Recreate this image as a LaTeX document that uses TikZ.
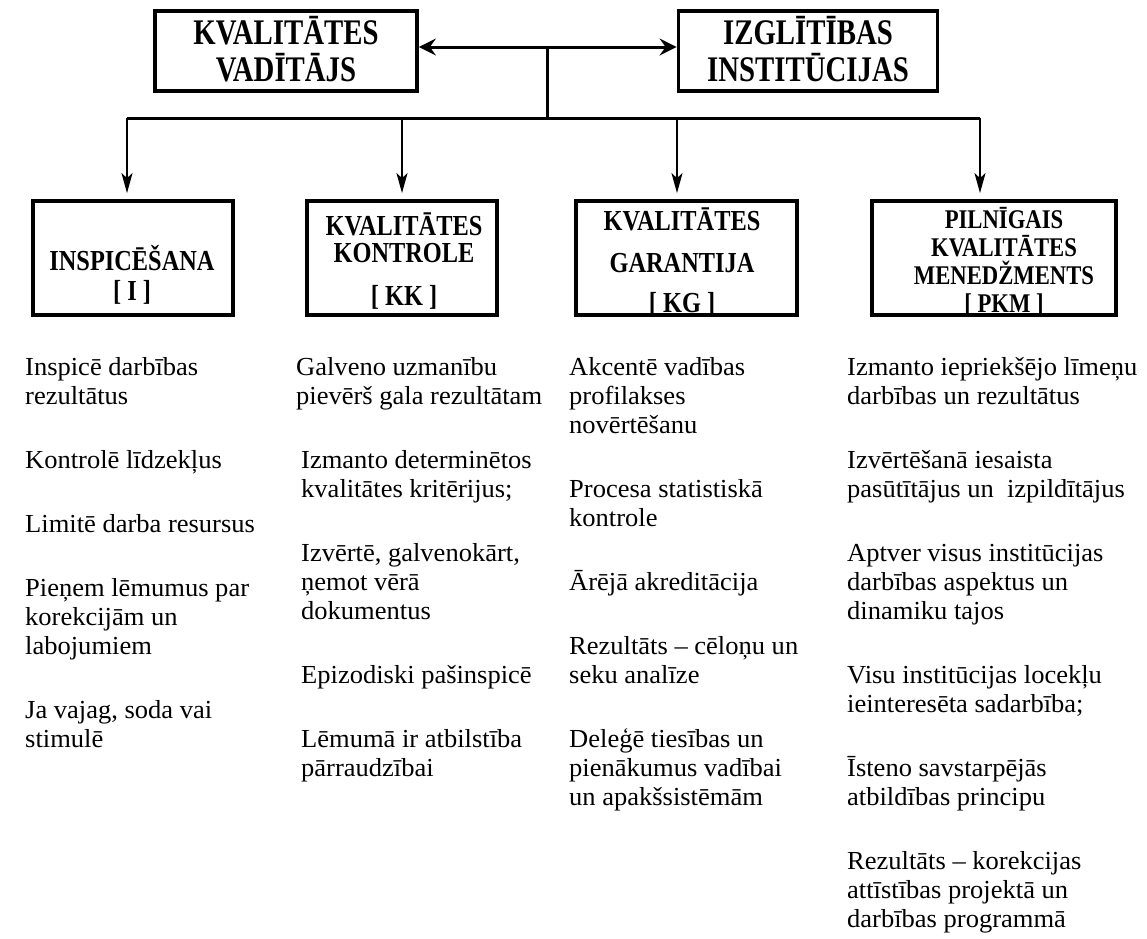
\documentclass[tikz,border=0pt]{standalone}
\usepackage{fontspec}
\setmainfont{Liberation Serif}
\newfontfamily\hdrfont[FakeStretch=0.8]{Liberation Serif}
\newfontfamily\boxfont[FakeStretch=0.84]{Liberation Serif}
\newfontfamily\bodyfont[FakeStretch=1.02]{Liberation Serif}
\usetikzlibrary{arrows.meta}
\tikzset{
  box/.style={draw, line width=3.8pt, inner sep=0pt},
  toptxt/.style={font=\hdrfont\bfseries\fontsize{36}{40}\selectfont, inner sep=0pt, anchor=base},
  boxtxt/.style={font=\boxfont\bfseries\fontsize{29}{32}\selectfont, inner sep=0pt, anchor=base},
  boxtxtsm/.style={font=\boxfont\bfseries\fontsize{27}{30}\selectfont, inner sep=0pt, anchor=base},
  body/.style={font=\bodyfont\fontsize{26}{29}\selectfont, inner sep=0pt, anchor=base west},
  conn/.style={line width=3pt},
  dbl/.style={line width=3pt, {Stealth[length=17pt,width=17pt,inset=6pt]}-{Stealth[length=17pt,width=17pt,inset=6pt]}},
  down/.style={line width=2pt, -{Stealth[length=20pt,width=11pt,inset=5pt]}, shorten >=6pt},
}
\newcommand\bline[4]{\node[body] (#1) at (#2,#3) {#4};}
\begin{document}
\begin{tikzpicture}[x=1pt,y=-1pt]
\useasboundingbox[fill=white] (0,0) rectangle (1147,938);

% top boxes
\node[box, minimum width=262pt, minimum height=80pt] (tl) at (286,51) {};
\node[box, minimum width=259pt, minimum height=80pt] (tr) at (808,51) {};
\node[toptxt] (tl1) at (286,44) {KVALITĀTES};
\node[toptxt] (tl2) at (286,81) {VADĪTĀJS};
\node[toptxt] (tr1) at (808,44) {IZGLĪTĪBAS};
\node[toptxt] (tr2) at (808,81) {INSTITŪCIJAS};

% connectors
\coordinate (j) at (547,47);
\coordinate (h) at (547,118);
\coordinate (a1) at (127,118);
\coordinate (a2) at (402,118);
\coordinate (a3) at (677,118);
\coordinate (a4) at (980,118);
\draw[dbl] (tl.east |- j) -- (tr.west |- j);
\draw[conn] (j) -- (h);
\draw[conn] (a1) -- (a4);

% lower boxes
\node[box, minimum width=200pt, minimum height=114pt] (b1) at (133,258) {};
\node[box, minimum width=190pt, minimum height=114pt] (b2) at (402,258) {};
\node[box, minimum width=221pt, minimum height=114pt] (b3) at (686.5,258) {};
\node[box, minimum width=244pt, minimum height=114pt] (b4) at (994,258) {};

\draw[down] (a1) -- (a1 |- b1.north);
\draw[down] (a2) -- (a2 |- b2.north);
\draw[down] (a3) -- (a3 |- b3.north);
\draw[down] (a4) -- (a4 |- b4.north);

\node[boxtxt] (b1t1) at (132,270) {INSPICĒŠANA};
\node[boxtxt] (b1t2) at (132,300) {[ I ]};
\node[boxtxt] (b2t1) at (404,235) {KVALITĀTES};
\node[boxtxt] (b2t2) at (404,262) {KONTROLE};
\node[boxtxt] (b2t3) at (404,305) {[ KK ]};
\node[boxtxt] (b3t1) at (682,230) {KVALITĀTES};
\node[boxtxt] (b3t2) at (682,272) {GARANTIJA};
\node[boxtxt] (b3t3) at (682,312) {[ KG ]};
\node[boxtxtsm] (b4t1) at (1004,228) {PILNĪGAIS};
\node[boxtxtsm] (b4t2) at (1004,256) {KVALITĀTES};
\node[boxtxtsm] (b4t3) at (1004,284) {MENEDŽMENTS};
\node[boxtxtsm] (b4t4) at (1004,312) {[ PKM ]};

% column 1
\bline{c1a}{25}{375}{Inspicē darbības}
\bline{c1b}{25}{404}{rezultātus}
\bline{c1c}{25}{468}{Kontrolē līdzekļus}
\bline{c1d}{25}{532}{Limitē darba resursus}
\bline{c1e}{25}{596}{Pieņem lēmumus par}
\bline{c1f}{25}{625}{korekcijām un}
\bline{c1g}{25}{654}{labojumiem}
\bline{c1h}{25}{718}{Ja vajag, soda vai}
\bline{c1i}{25}{747}{stimulē}

% column 2
\bline{c2a}{296}{375}{Galveno uzmanību}
\bline{c2b}{296}{404}{pievērš gala rezultātam}
\bline{c2c}{301}{468}{Izmanto determinētos}
\bline{c2d}{301}{497}{kvalitātes kritērijus;}
\bline{c2e}{301}{561}{Izvērtē, galvenokārt,}
\bline{c2f}{301}{590}{ņemot vērā}
\bline{c2g}{301}{619}{dokumentus}
\bline{c2h}{301}{683}{Epizodiski pašinspicē}
\bline{c2i}{301}{747}{Lēmumā ir atbilstība}
\bline{c2j}{301}{776}{pārraudzībai}

% column 3
\bline{c3a}{569}{375}{Akcentē vadības}
\bline{c3b}{569}{404}{profilakses}
\bline{c3c}{569}{433}{novērtēšanu}
\bline{c3d}{569}{497}{Procesa statistiskā}
\bline{c3e}{569}{526}{kontrole}
\bline{c3f}{569}{590}{Ārējā akreditācija}
\bline{c3g}{569}{654}{Rezultāts – cēloņu un}
\bline{c3h}{569}{683}{seku analīze}
\bline{c3i}{569}{747}{Deleģē tiesības un}
\bline{c3j}{569}{776}{pienākumus vadībai}
\bline{c3k}{569}{805}{un apakšsistēmām}

% column 4
\bline{c4a}{847}{375}{Izmanto iepriekšējo līmeņu}
\bline{c4b}{847}{404}{darbības un rezultātus}
\bline{c4c}{847}{468}{Izvērtēšanā iesaista}
\bline{c4d}{847}{497}{pasūtītājus un\ \ izpildītājus}
\bline{c4e}{847}{561}{Aptver visus institūcijas}
\bline{c4f}{847}{590}{darbības aspektus un}
\bline{c4g}{847}{619}{dinamiku tajos}
\bline{c4h}{847}{683}{Visu institūcijas locekļu}
\bline{c4i}{847}{712}{ieinteresēta sadarbība;}
\bline{c4j}{847}{776}{Īsteno savstarpējās}
\bline{c4k}{847}{805}{atbildības principu}
\bline{c4l}{847}{869}{Rezultāts – korekcijas}
\bline{c4m}{847}{898}{attīstības projektā un}
\bline{c4n}{847}{927}{darbības programmā}
\end{tikzpicture}
\end{document}
